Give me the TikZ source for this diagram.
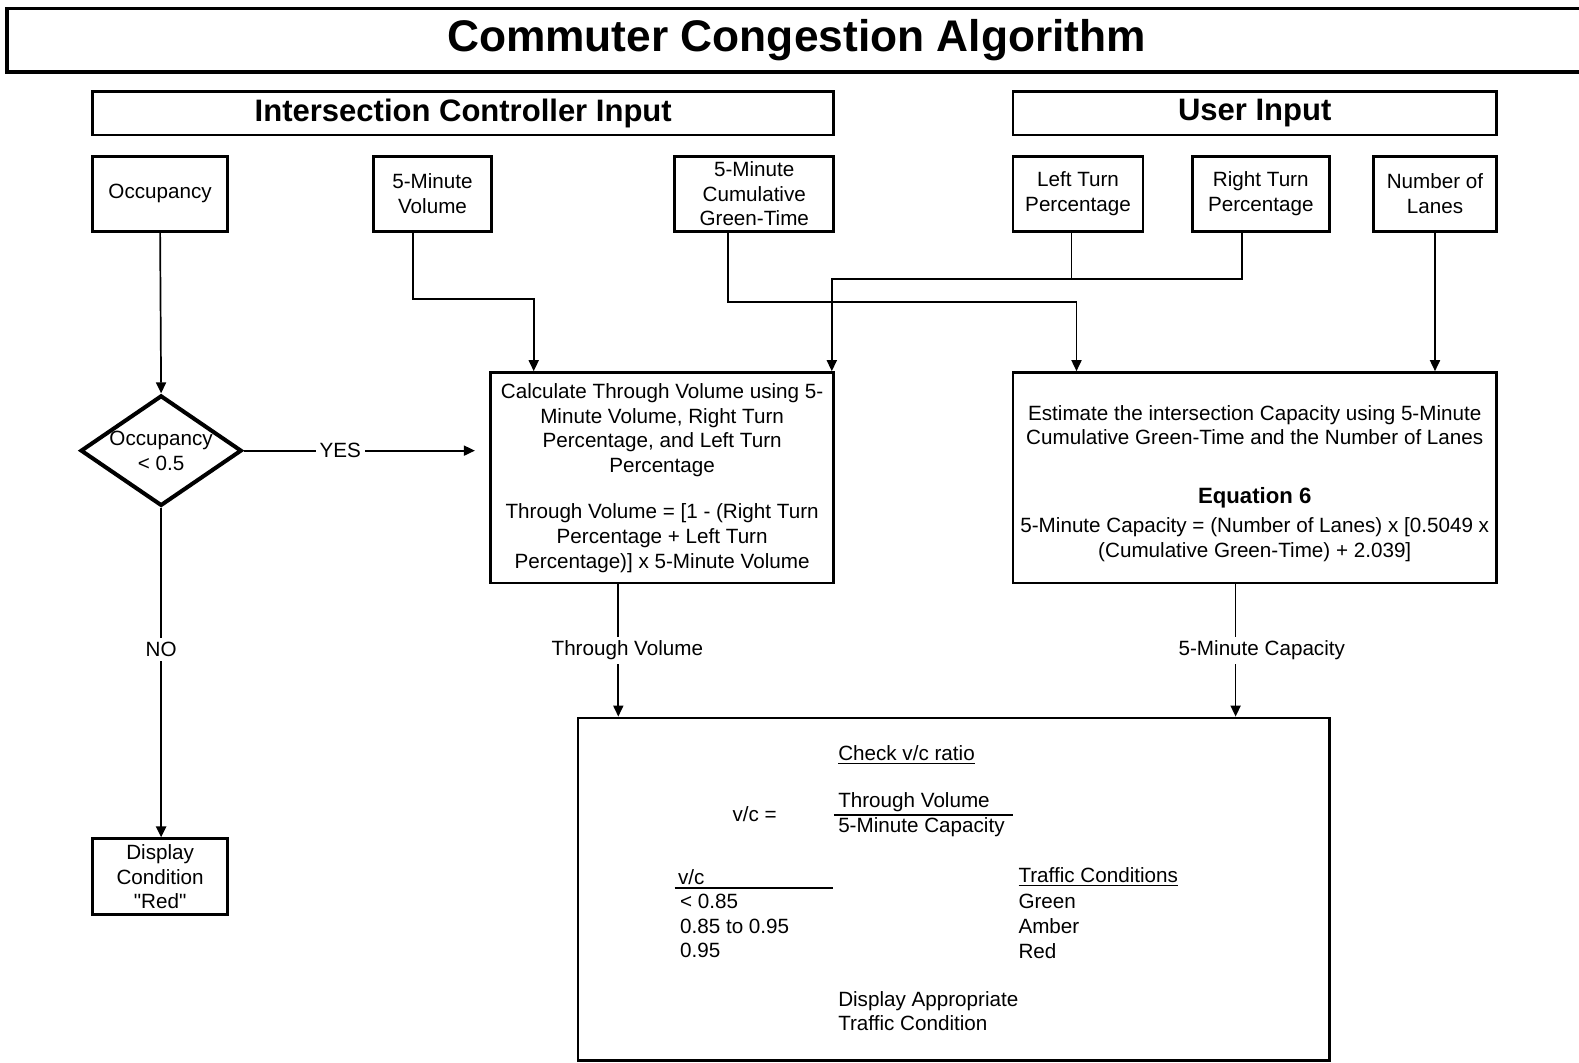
\documentclass[tikz,border=0pt]{standalone}
\usepackage{fontspec}
\setmainfont{Liberation Sans}
\usetikzlibrary{arrows.meta,shapes.geometric}
\newcommand\bodysize{\fontsize{10.25pt}{12.25pt}\selectfont}
\begin{document}
\begin{tikzpicture}[x=0.5pt, y=-0.5pt,
  box/.style={draw, line width=1.4pt, inner sep=0pt, align=center, font=\bodysize},
  conn/.style={line width=0.85pt},
  arr/.style={conn, -{Triangle[length=5.5pt,width=5pt]}},
  lab/.style={fill=white, inner sep=2pt, font=\bodysize},
  txt/.style={anchor=west, inner sep=0pt, font=\bodysize},
]
\useasboundingbox (0,0) rectangle (1568,1055);

% title and section headers
\node[box, line width=1.6pt, minimum width=784pt, minimum height=31.5pt,
      font=\fontsize{22pt}{26pt}\bfseries\selectfont] (title) at (791,40) {Commuter Congestion Algorithm};
\node[box, minimum width=368pt, minimum height=21.5pt,
      font=\fontsize{15.4pt}{18pt}\bfseries\selectfont] (ici) at (460,112.5) {Intersection Controller Input};
\node[box, minimum width=240pt, minimum height=21.5pt,
      font=\fontsize{15.4pt}{18pt}\bfseries\selectfont] (ui) at (1246,112.5) {User Input};

% input boxes
\node[box, minimum width=67pt,   minimum height=37.5pt] (occ) at (159,192.5)   {Occupancy};
\node[box, minimum width=58.5pt, minimum height=37.5pt] (vol) at (429.5,192.5) {5-Minute\\Volume};
\node[box, minimum width=79pt,   minimum height=37.5pt] (grn) at (749,192.5)   {5-Minute\\Cumulative\\Green-Time};
\node[box, minimum width=64.5pt, minimum height=37.5pt] (lft) at (1070.5,192.5) {Left Turn\\Percentage};
\node[box, minimum width=68pt,   minimum height=37.5pt] (rgt) at (1252,192.5)  {Right Turn\\Percentage};
\node[box, minimum width=61pt,   minimum height=37.5pt] (lan) at (1425,192.5)  {Number of\\Lanes};

% decision
\node[diamond, draw, line width=2pt, inner sep=0pt, aspect=1.45,
      minimum width=80pt, minimum height=54.5pt, align=center, font=\bodysize] (dia) at (160,447.5) {Occupancy\\< 0.5};

% processing boxes
\node[box, minimum width=170.5pt, minimum height=104.5pt] (calc) at (657.5,474.5)
  {Calculate Through Volume using 5-\\Minute Volume, Right Turn\\Percentage, and Left Turn\\Percentage\\[10.75pt]
   Through Volume = [1 - (Right Turn\\Percentage + Left Turn\\Percentage)] x 5-Minute Volume};
\node[box, minimum width=240pt, minimum height=104.5pt] (est) at (1246,474.5)
  {\rule{0pt}{13pt}Estimate the intersection Capacity using 5-Minute\\Cumulative Green-Time and the Number of Lanes\\[16.75pt]
   {\fontsize{11pt}{13pt}\bfseries\selectfont Equation 6}\\[2.25pt]
   5-Minute Capacity = (Number of Lanes) x [0.5049 x\\(Cumulative Green-Time) + 2.039]};

\node[box, minimum width=67pt, minimum height=37.5pt] (disp) at (159,870.5) {Display\\Condition\\\textquotedbl Red\textquotedbl};
\node[box, minimum width=373pt, minimum height=170pt] (chk) at (947,883) {};

% connectors from the inputs
\coordinate (v1) at (410,297);  \coordinate (v2) at (530,297);
\draw[arr] (vol.south -| v1) -- (v1) -- (v2) -- (v2 |- calc.north);
\coordinate (g1) at (723,300);  \coordinate (g2) at (1069,300);
\draw[arr] (grn.south -| g1) -- (g1) -- (g2) -- (g2 |- est.north);
\coordinate (l1) at (1064,277); \coordinate (r1) at (1233,277); \coordinate (t1) at (826,277);
\draw[conn] (lft.south -| l1) -- (l1);
\draw[arr] (rgt.south -| r1) -- (r1) -- (t1) -- (t1 |- calc.north);
\draw[arr] (lan.south) -- (lan.south |- est.north);
\draw[arr] (occ.south) -- (dia.north);

% decision branches
\draw[arr, shorten >=7pt] (dia.east) -- (dia.east -| calc.west) node[lab, pos=0.394] {YES};
\draw[arr, line width=1.2pt] (dia.south) -- (dia.south |- disp.north) node[lab, pos=0.43] {NO};

% results into the check box
\coordinate (tv) at (614,0); \coordinate (cp) at (1227,0);
\draw[arr] (calc.south -| tv) -- (chk.north -| tv) node[lab, pos=0.5, xshift=4.5pt] {Through Volume};
\draw[arr] (est.south -| cp) -- (chk.north -| cp) node[lab, pos=0.5, xshift=13pt] {5-Minute Capacity};

% contents of the check box
\node[txt] (hd)  at (832,750) {\underline{Check v/c ratio}};
\node[txt] (vc)  at (727,808) {v/c =};
\node[txt] (num) at (832,797) {Through Volume};
\node[txt] (den) at (832,821) {5-Minute Capacity};
\draw[line width=0.85pt] (828,809) -- (1006,809);
\node[txt] (vch) at (673,871) {v/c};
\draw[line width=0.85pt] (670,882) -- (827,882);
\node[txt] (r1t) at (675,895) {< 0.85};
\node[txt] (r2t) at (675,920) {0.85 to 0.95};
\node[txt] (r3t) at (675,944) {0.95};
\node[txt] (tch) at (1011,871) {\underline{Traffic Conditions}};
\node[txt] (c1t) at (1011,895) {Green};
\node[txt] (c2t) at (1011,920) {Amber};
\node[txt] (c3t) at (1011,944) {Red};
\node[txt, align=left, anchor=north west] (act) at (832,984) {Display Appropriate\\Traffic Condition};
\end{tikzpicture}
\end{document}
